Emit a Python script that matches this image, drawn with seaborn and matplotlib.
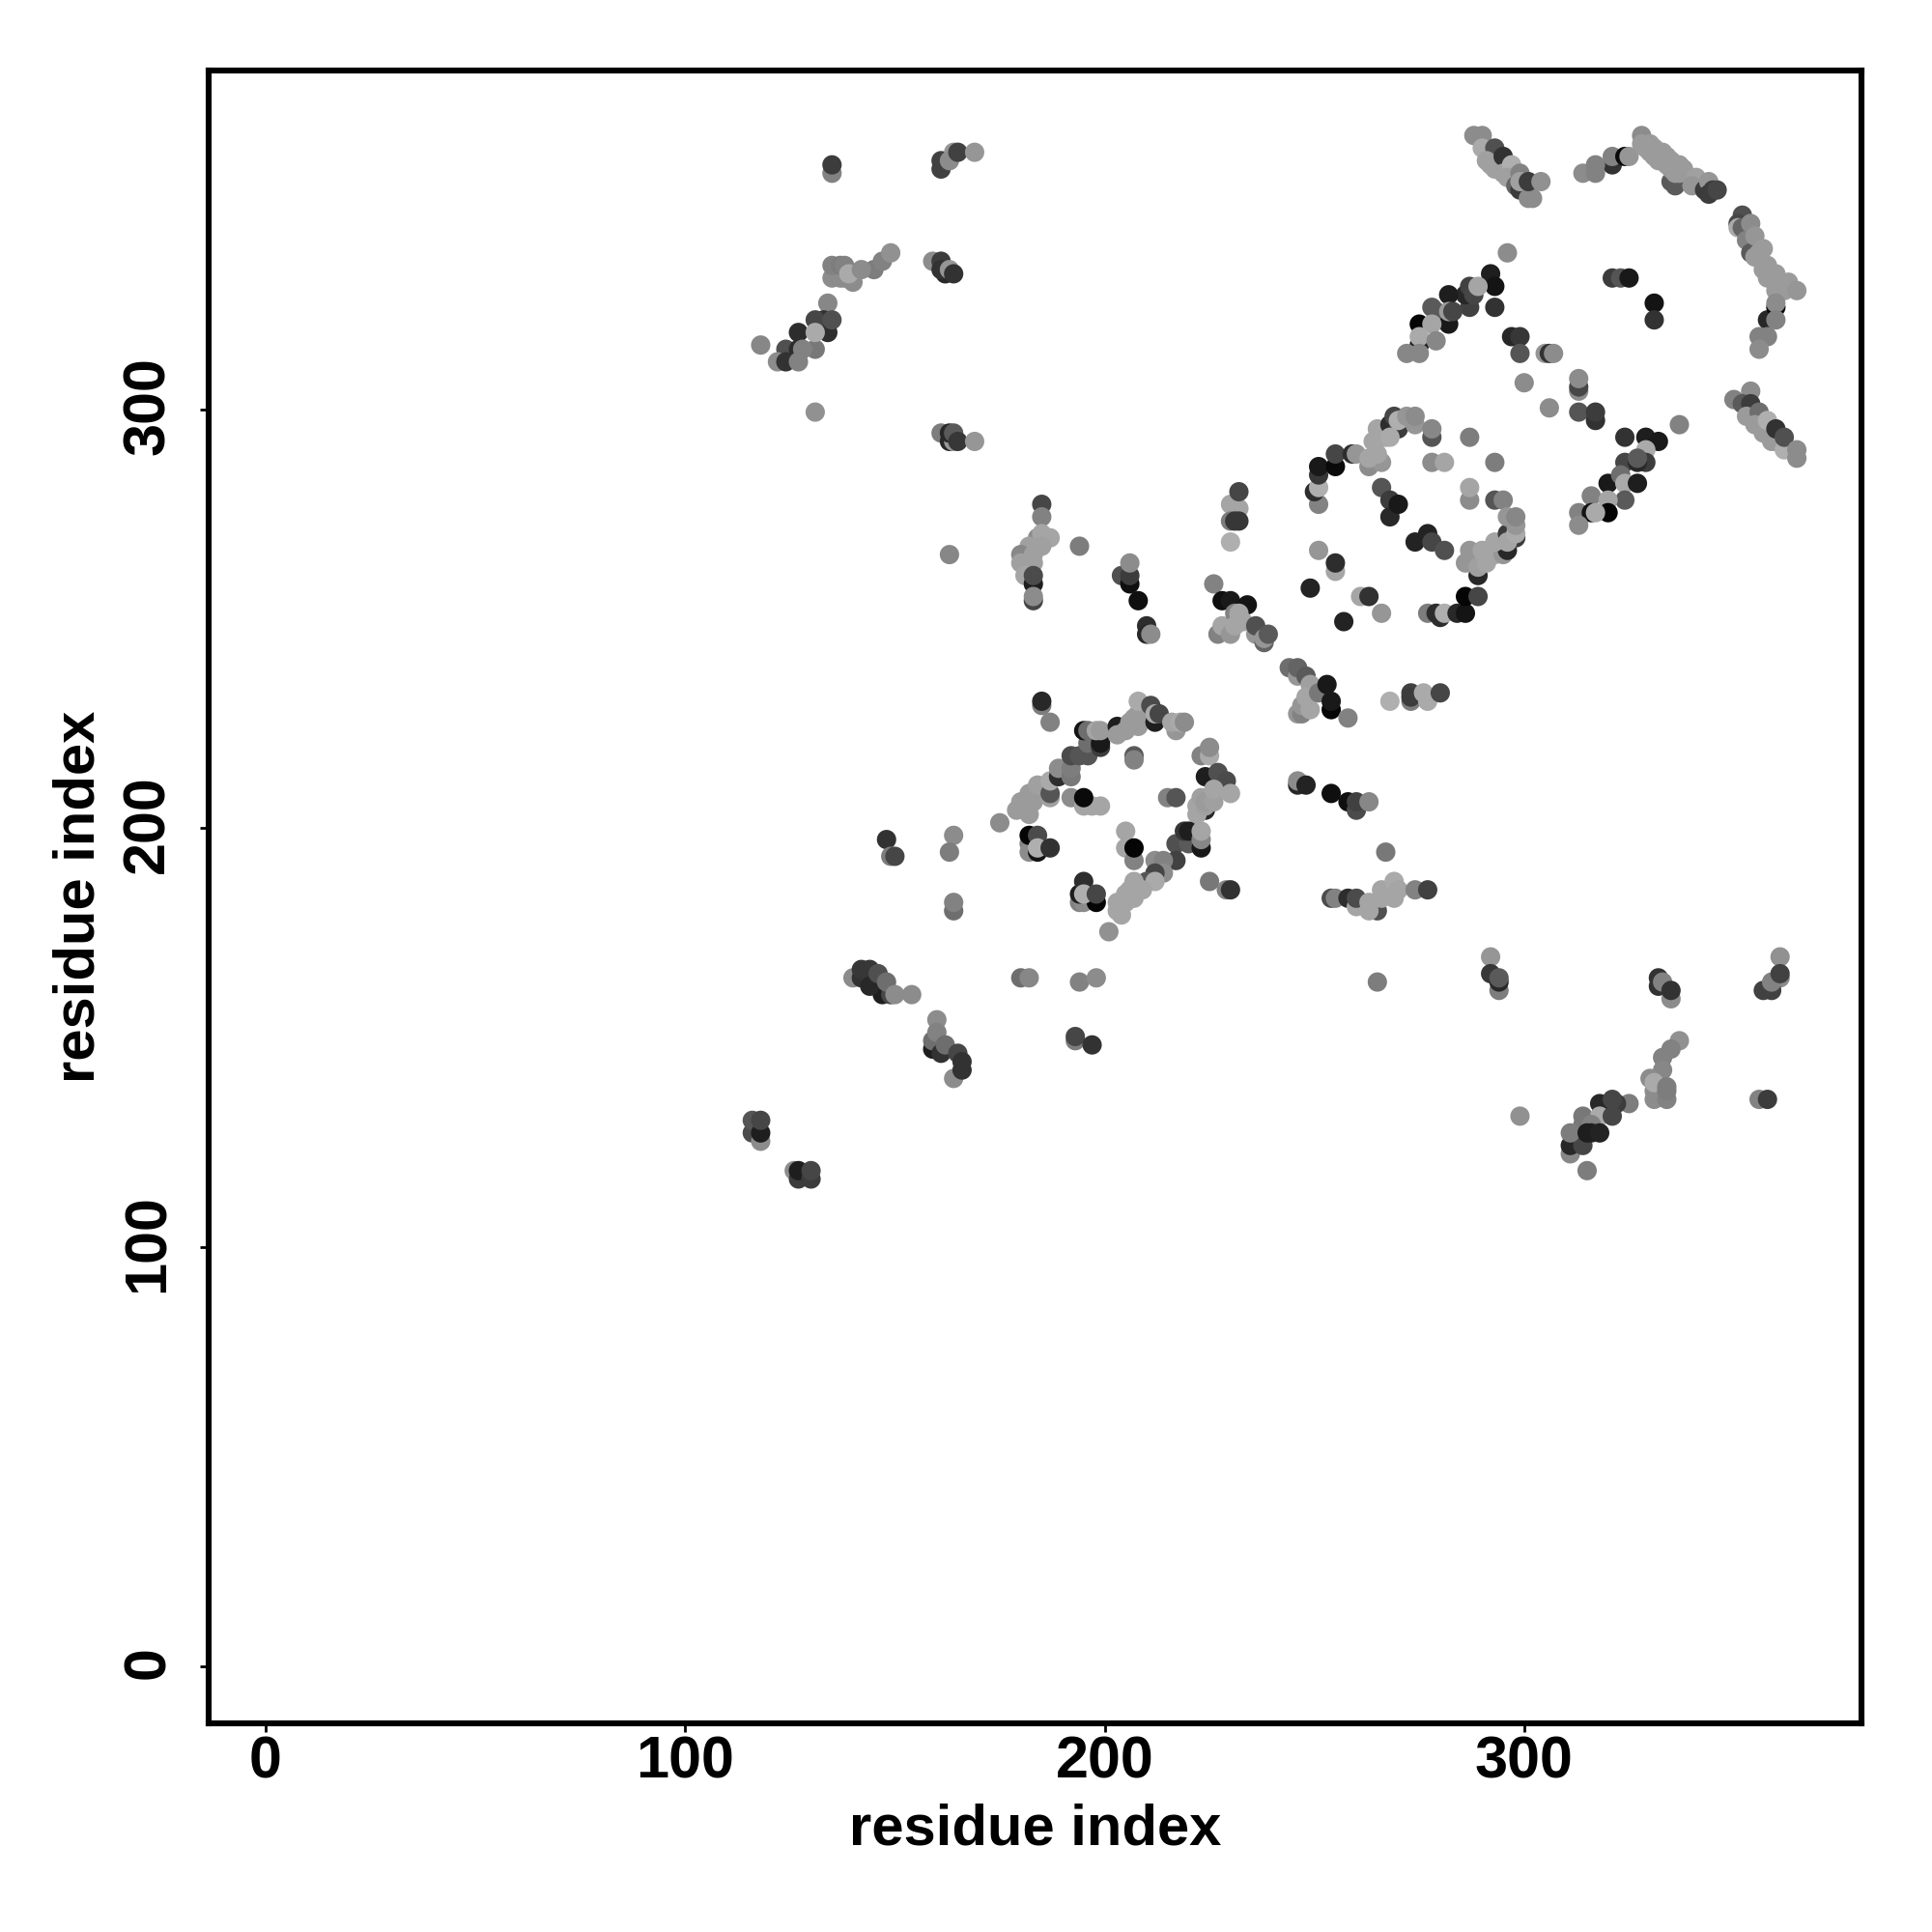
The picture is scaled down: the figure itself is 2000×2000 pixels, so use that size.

import pandas as pd
import matplotlib.pyplot as plt
import matplotlib.transforms as mtrans
import seaborn as sns

# each entry: (residue x, residue y, grey level 0-255), later ones are drawn on top
upper_left = [
    (135, 356, 130), (135, 358, 60), (161, 357, 65), (161, 359, 65), (164, 361, 150), (163, 359, 140),
    (165, 361, 65), (169, 361, 150), (135, 331, 140), (137, 331, 140), (138, 331, 140), (140, 330, 140),
    (135, 334, 130), (137, 334, 125), (138, 334, 130), (139, 332, 170), (145, 333, 125), (142, 333, 140),
    (147, 335, 130), (149, 337, 145), (159, 335, 140), (162, 332, 40), (161, 335, 60), (161, 333, 50),
    (163, 333, 150), (164, 332, 50), (134, 325, 135), (134, 318, 45), (133, 321, 50), (131, 321, 70),
    (135, 321, 80), (127, 318, 45), (131, 314, 120), (131, 318, 170), (124, 314, 80), (127, 314, 45),
    (128, 314, 130), (118, 315, 135), (122, 311, 140), (124, 311, 50), (127, 311, 130), (131, 299, 145),
    (161, 294, 125), (163, 292, 40), (164, 292, 150), (163, 294, 40), (164, 294, 90), (165, 292, 55),
    (169, 292, 150),
]
upper_strand = [
    (288, 365, 140), (290, 365, 140), (290, 362, 170), (293, 362, 80), (291, 359, 160), (292, 358, 160),
    (293, 357, 160), (295, 360, 50), (295, 356, 160), (297, 358, 175), (296, 355, 160), (298, 353, 100),
    (299, 352, 60), (299, 356, 130), (299, 354, 160), (301, 350, 140), (302, 350, 140), (301, 354, 60),
    (304, 354, 145), (314, 356, 140), (321, 358, 50), (317, 358, 130), (317, 356, 130), (321, 360, 130),
    (324, 360, 10), (325, 360, 150),
]
upper_ribbon = [
    (335, 354, 90), (336, 353, 90), (339, 355, 90), (328, 365, 140), (328, 363, 155), (329, 362, 155),
    (330, 363, 155), (330, 361, 155), (331, 362, 155), (331, 360, 155), (332, 361, 155), (332, 359, 155),
    (333, 361, 155), (333, 359, 155), (334, 360, 155), (334, 358, 155), (335, 359, 155), (335, 357, 155),
    (336, 358, 155), (336, 356, 155), (337, 358, 155), (337, 356, 155), (338, 357, 155), (341, 355, 160),
    (340, 353, 150), (343, 352, 60), (344, 354, 150), (344, 351, 60), (345, 352, 60), (346, 352, 70),
]
right_ribbon = [
    (352, 346, 80), (351, 344, 70), (351, 343, 170), (352, 343, 100), (354, 344, 140), (353, 340, 130),
    (354, 337, 90), (355, 341, 150), (355, 336, 155), (356, 337, 155), (357, 338, 155), (357, 333, 155),
    (358, 334, 155), (358, 331, 155), (360, 332, 155), (361, 330, 155), (360, 328, 155), (362, 328, 155),
    (363, 330, 155), (365, 328, 150), (358, 321, 40), (360, 324, 10), (360, 325, 140), (360, 321, 130),
    (356, 317, 130), (358, 317, 130), (356, 314, 140),
]
inner_top = [
    (296, 337, 140), (292, 332, 30), (293, 329, 20), (293, 324, 50), (287, 324, 65), (286, 327, 40),
    (287, 329, 65), (288, 327, 70), (289, 329, 165), (282, 327, 30), (278, 324, 90), (279, 323, 90),
    (282, 320, 25), (282, 323, 155), (283, 323, 70), (275, 320, 5), (278, 320, 165), (275, 315, 30),
    (275, 317, 170), (279, 316, 135), (272, 313, 135), (275, 313, 135), (321, 331, 60), (323, 331, 85),
    (325, 331, 25), (331, 325, 20), (331, 321, 50), (297, 317, 40), (299, 317, 55), (299, 313, 85),
    (305, 313, 150), (306, 313, 50), (307, 313, 140), (300, 306, 140), (313, 304, 140), (313, 305, 70),
    (313, 307, 140), (306, 300, 140), (313, 299, 85), (317, 297, 50), (317, 299, 60),
]
inner_right = [
    (337, 296, 130), (324, 293, 50), (329, 293, 30), (332, 292, 25), (329, 290, 170), (324, 287, 70),
    (329, 287, 60), (327, 287, 40), (327, 288, 90), (320, 282, 25), (323, 284, 110), (324, 282, 170),
    (327, 282, 30), (324, 278, 90), (316, 279, 130), (320, 278, 165), (320, 275, 5), (313, 275, 130),
    (316, 275, 20), (317, 275, 170), (313, 272, 140),
]
far_right = [
    (354, 304, 140), (350, 302, 130), (352, 301, 90), (354, 301, 60), (353, 298, 155), (356, 299, 110),
    (355, 296, 155), (357, 294, 155), (358, 297, 175), (359, 292, 155), (360, 292, 155), (360, 295, 50),
    (362, 290, 175), (362, 293, 80), (365, 288, 140), (365, 290, 140),
]
ring_upper = [
    (251, 277, 130), (250, 280, 45), (251, 281, 175), (251, 284, 55), (251, 286, 25), (255, 286, 10),
    (255, 289, 70), (259, 289, 45), (260, 289, 150), (263, 286, 140), (266, 287, 150), (263, 288, 165),
    (265, 289, 165), (264, 292, 165), (267, 293, 165), (265, 295, 165), (268, 296, 45), (270, 295, 60),
    (268, 293, 170), (269, 298, 70), (270, 297, 175), (272, 298, 150), (274, 296, 150), (274, 298, 140),
    (278, 293, 85), (278, 295, 135), (287, 293, 125), (278, 287, 140), (281, 287, 165), (293, 287, 125),
    (266, 281, 85), (268, 278, 60), (268, 274, 40), (270, 277, 25), (287, 278, 140), (287, 281, 165),
    (293, 278, 85), (295, 278, 130), (274, 268, 35), (277, 270, 35), (278, 268, 70), (281, 266, 80),
]
ring_lower = [
    (251, 266, 150), (255, 261, 165), (255, 263, 45), (249, 257, 35), (261, 255, 165), (263, 255, 50),
    (266, 251, 150), (257, 249, 35), (277, 251, 125), (280, 250, 45), (279, 251, 45), (281, 251, 175),
    (284, 251, 40), (286, 251, 20), (286, 255, 5), (289, 255, 70), (289, 260, 40), (286, 263, 150),
    (287, 266, 150), (289, 262, 160), (290, 266, 165), (291, 263, 165), (293, 265, 165), (295, 265, 150),
    (296, 266, 40), (293, 268, 165), (296, 270, 60), (298, 269, 60), (296, 268, 165), (298, 270, 170),
    (296, 274, 150), (298, 272, 150), (298, 274, 135),
]
middle_band = [
    (244, 238, 110), (246, 236, 150), (246, 238, 100), (248, 236, 90), (249, 234, 160), (246, 227, 150),
    (247, 227, 130), (247, 229, 150), (248, 231, 165), (249, 228, 165), (251, 232, 120), (253, 234, 25),
    (254, 228, 5), (254, 230, 25), (258, 226, 130), (268, 230, 175), (273, 230, 125), (273, 232, 65),
    (273, 231, 60), (277, 230, 170), (276, 232, 170), (280, 232, 70), (185, 277, 70), (185, 274, 130),
    (184, 269, 140), (185, 270, 165), (187, 269, 165), (185, 267, 160), (182, 267, 160), (180, 265, 135),
    (183, 265, 160), (180, 263, 160), (183, 263, 160), (181, 260, 165), (183, 258, 30), (183, 260, 75),
    (183, 254, 70), (183, 255, 140), (194, 267, 125), (204, 260, 80), (206, 258, 15), (206, 260, 60),
    (206, 263, 140), (208, 254, 15), (210, 248, 45), (210, 246, 40), (211, 246, 140), (226, 258, 130),
    (228, 254, 15), (230, 254, 25), (234, 253, 20), (227, 246, 130), (228, 248, 165), (230, 246, 150),
    (231, 251, 130), (232, 251, 165), (233, 249, 165), (231, 248, 165), (236, 246, 150), (236, 248, 80),
    (238, 244, 100), (238, 245, 150), (239, 246, 90), (230, 277, 165), (232, 276, 165), (232, 280, 70),
    (230, 273, 125), (231, 273, 55), (232, 273, 55), (230, 268, 175),
]
ring_small_top = [
    (185, 229, 125), (185, 230, 40), (187, 225, 130), (175, 201, 140), (179, 204, 155), (182, 203, 155),
    (180, 206, 155), (183, 206, 155), (182, 208, 155), (185, 208, 155), (187, 207, 160), (184, 210, 160),
    (187, 208, 85), (187, 211, 170), (189, 212, 45), (189, 214, 140), (192, 212, 120), (192, 214, 125),
    (192, 217, 75), (194, 217, 85), (196, 217, 85), (196, 220, 110), (199, 219, 60), (199, 220, 25),
    (195, 223, 20), (196, 223, 110), (198, 223, 165), (199, 223, 155), (203, 224, 30), (203, 222, 155),
    (205, 223, 155), (206, 225, 155), (207, 226, 155), (208, 224, 155), (208, 227, 155), (208, 230, 170),
    (212, 225, 30), (211, 229, 75), (212, 227, 170), (213, 227, 70), (217, 223, 150), (216, 225, 165),
    (218, 225, 170), (219, 225, 140), (207, 217, 90), (207, 216, 130),
]
ring_small_side = [
    (223, 217, 130), (225, 217, 170), (225, 219, 140), (224, 212, 30), (227, 213, 80), (229, 211, 75),
    (224, 204, 40), (222, 203, 165), (222, 205, 165), (224, 205, 160), (223, 207, 160), (224, 206, 155),
    (226, 206, 160), (226, 209, 165), (230, 208, 165), (215, 207, 130), (217, 207, 85), (192, 207, 140),
    (195, 205, 165), (197, 205, 165), (199, 205, 165), (195, 207, 10), (182, 196, 130), (182, 194, 140),
    (184, 194, 20), (182, 198, 5), (184, 198, 75), (184, 195, 175), (187, 195, 50), (205, 199, 165),
    (205, 195, 165), (207, 192, 130), (207, 195, 5), (217, 196, 80), (220, 196, 90), (217, 192, 65),
    (219, 199, 55), (220, 199, 30), (223, 195, 25), (223, 197, 135), (223, 199, 165),
]
ring_small_low = [
    (212, 192, 140), (214, 192, 130), (214, 189, 140), (212, 189, 70), (210, 187, 85), (207, 187, 165),
    (212, 187, 170), (209, 185, 165), (206, 185, 165), (205, 184, 165), (207, 183, 165), (205, 182, 165),
    (203, 182, 165), (203, 180, 165), (204, 179, 165), (201, 175, 145), (194, 182, 130), (195, 182, 140),
    (194, 184, 30), (198, 182, 5), (195, 187, 45), (195, 184, 175), (198, 184, 70), (225, 187, 120),
    (229, 185, 130), (230, 185, 50),
]
off_diagonal = [
    (246, 210, 40), (246, 211, 140), (248, 210, 35), (254, 208, 15), (258, 206, 15), (260, 204, 75),
    (260, 206, 65), (263, 206, 135), (267, 194, 120), (265, 180, 80), (254, 183, 75), (255, 183, 130),
    (258, 183, 45), (260, 181, 165), (260, 183, 75), (263, 182, 165), (263, 180, 165), (266, 183, 165),
    (266, 185, 165), (269, 183, 165), (269, 187, 170), (270, 185, 165), (274, 185, 130), (277, 185, 65),
    (180, 164, 110), (182, 164, 135), (194, 163, 130), (198, 164, 140), (193, 149, 125), (193, 150, 70),
    (197, 148, 50), (163, 265, 135), (265, 163, 125), (148, 197, 50), (149, 193, 125), (150, 193, 70),
    (164, 198, 140), (163, 194, 125), (164, 180, 110), (164, 182, 130),
]
beta_pairs = [
    (140, 164, 140), (142, 164, 50), (142, 166, 55), (144, 166, 55), (147, 160, 30), (144, 162, 40),
    (146, 165, 80), (149, 160, 70), (148, 163, 110), (150, 160, 140), (154, 160, 140), (159, 147, 30),
    (159, 149, 110), (160, 154, 140), (160, 151, 130), (161, 146, 50), (162, 148, 110), (164, 140, 140),
    (165, 146, 70), (166, 144, 50), (166, 142, 50), (116, 127, 75), (116, 130, 85), (118, 125, 140),
    (118, 127, 30), (118, 130, 70), (126, 118, 140), (127, 116, 60), (127, 118, 30), (130, 116, 60),
    (130, 118, 70),
]
lower_right = [
    (299, 131, 145), (292, 169, 150), (294, 161, 125), (292, 165, 55), (294, 163, 40), (294, 164, 90),
    (332, 162, 50), (332, 164, 50), (333, 163, 130), (335, 159, 140), (335, 161, 50), (361, 169, 145),
    (361, 164, 140), (357, 161, 65), (359, 161, 65), (359, 163, 130), (361, 165, 65), (356, 135, 130),
    (358, 135, 60), (337, 149, 145), (335, 147, 130), (333, 145, 130), (333, 142, 135), (331, 135, 140),
    (331, 137, 140), (330, 140, 140), (331, 139, 170), (334, 135, 130), (334, 137, 125), (334, 138, 125),
    (325, 134, 125), (318, 134, 40), (322, 134, 60), (321, 135, 70), (314, 131, 120), (314, 129, 120),
    (318, 131, 170), (321, 131, 70), (311, 122, 135), (311, 124, 40), (314, 124, 70), (311, 127, 125),
    (316, 129, 130), (316, 127, 40), (315, 127, 30), (318, 127, 35), (315, 118, 125),
]

tick_values = [0, 100, 200, 300]
axis_label = "residue index"

contacts = pd.DataFrame(
    upper_left + upper_strand + upper_ribbon + right_ribbon + inner_top + inner_right + far_right
    + ring_upper + ring_lower + middle_band + ring_small_top + ring_small_side + ring_small_low
    + off_diagonal + beta_pairs + lower_right,
    columns=["x", "y", "shade"],
)
contacts["y"] = contacts["y"] + 0.3

sns.set_theme(style="white")
plt.rcParams["font.family"] = ["Liberation Sans", "DejaVu Sans"]
plt.rcParams["font.weight"] = "bold"

fig = plt.figure(figsize=(10, 10), dpi=200)
ax = fig.add_axes([0.1082, 0.1082, 0.8555, 0.8555])

sns.scatterplot(
    data=contacts, x="x", y="y", hue="shade", palette="gray", hue_norm=(0, 255),
    s=52, linewidth=0, legend=False, ax=ax,
)

ax.set_xlim(-13.5, 380.5)
ax.set_ylim(-13.5, 380.9)
ax.set_xticks(tick_values)
ax.set_yticks(tick_values)
ax.tick_params(axis="both", which="major", bottom=True, left=True, direction="out",
               length=3.4, width=1.0, color="black", labelsize=22, labelcolor="black")
ax.tick_params(axis="x", pad=1.2)
ax.tick_params(axis="y", pad=8.75)

# rotated labels sit a bit low on their ticks, nudge them up
nudge = mtrans.ScaledTranslation(0, 1.4 / 72, fig.dpi_scale_trans)
for lab in ax.get_yticklabels():
    lab.set_rotation(90)
    lab.set_va("center")
    lab.set_transform(lab.get_transform() + nudge)

for side in ax.spines.values():
    side.set_linewidth(2.2)
    side.set_color("black")

ax.set_xlabel(axis_label, fontsize=21.5, fontweight="bold", color="black", labelpad=4.6)
ax.set_ylabel(axis_label, fontsize=21.5, fontweight="bold", color="black", labelpad=5.9)

fig.savefig("out.png", dpi=200, facecolor="white")
